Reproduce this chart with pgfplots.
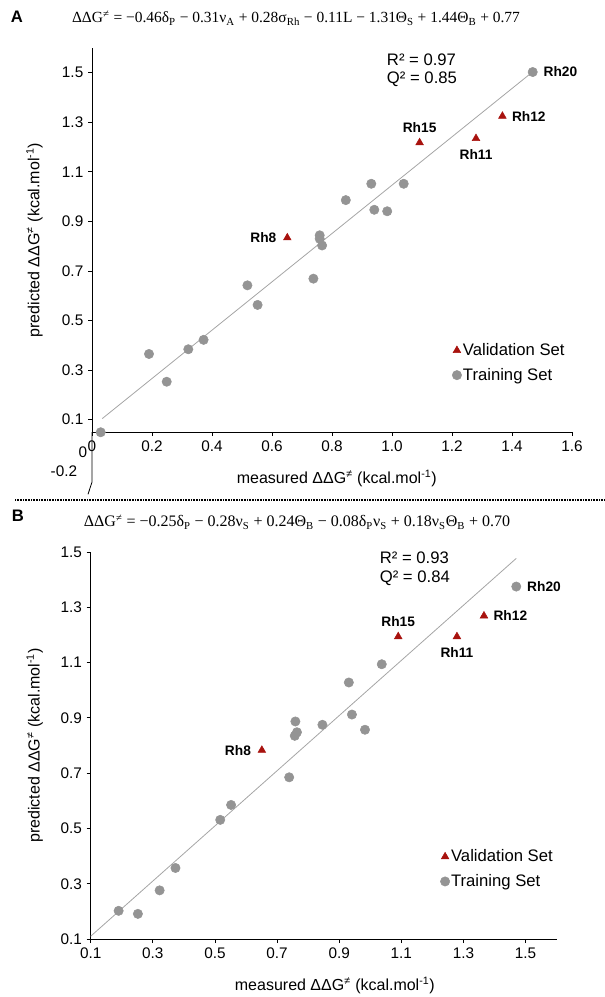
\documentclass[border=0pt]{standalone}
\usepackage{fontspec}
\setmainfont{Liberation Sans}
\newfontfamily\eqfont{Liberation Serif}
\usepackage{pgfplots}
\usepackage{pgfplotstable}
\pgfplotsset{compat=1.18}
\definecolor{ptgray}{RGB}{148,148,148}
\definecolor{ptred}{RGB}{168,18,14}
\definecolor{fitgray}{RGB}{165,165,165}

\pgfplotstableread{
x y
0.029 0.049
0.190 0.365
0.249 0.253
0.321 0.384
0.372 0.422
0.518 0.642
0.552 0.563
0.738 0.669
0.759 0.844
0.759 0.830
0.767 0.803
0.846 0.986
0.931 1.052
0.941 0.947
0.984 0.941
1.039 1.052
1.469 1.503
}\trainA
\pgfplotstableread{
x y
0.651 0.834
1.092 1.218
1.280 1.235
1.368 1.325
}\validA
\pgfplotstableread{
x y
0.190 0.202
0.252 0.191
0.322 0.276
0.373 0.357
0.517 0.531
0.552 0.585
0.739 0.685
0.759 0.887
0.757 0.835
0.764 0.848
0.846 0.875
0.941 0.912
0.983 0.857
0.931 1.028
1.037 1.094
1.470 1.375
}\trainB
\pgfplotstableread{
x y
0.651 0.783
1.090 1.194
1.279 1.194
1.366 1.269
}\validB

\tikzset{rhlab/.style={font=\fontsize{10.3}{12}\bfseries\selectfont, inner sep=0pt}}
\pgfplotsset{
  myaxis/.style={
    scale only axis,
    axis lines*=left,
    xtick pos=left, ytick pos=left,
    axis line style={black, line width=0.6pt},
    tick align=outside,
    major tick length=3pt,
    tick style={black, line width=0.6pt},
    tick label style={font=\fontsize{11.5}{12}\selectfont, black},
    label style={font=\fontsize{12}{14}\selectfont},
    clip=false,
    legend style={draw=none, fill=none, font=\fontsize{12.5}{14}\selectfont,
      anchor=north west, legend cell align=left, row sep=6pt, inner sep=0pt,
      nodes={inner sep=1pt}},
    legend image code/.code={\draw[mark repeat=1,##1] plot coordinates {(0.12cm,0cm)};},
  },
  trainstyle/.style={color=ptgray, only marks, mark=*, mark size=3.5pt, mark options={draw=ptgray, fill=ptgray}},
  validstyle/.style={color=ptred, only marks, mark=triangle*, mark size=3.3pt, mark options={draw=ptred, fill=ptred}},
}

\begin{document}
\begin{tikzpicture}
\path[use as bounding box] (0,0) rectangle (453pt,-747.75pt);

% ---------- Panel A header ----------
\node[font=\fontsize{12.5}{14}\bfseries\selectfont] at (12.75pt,-12.75pt) {A};
\node[font=\eqfont\fontsize{11.6}{13}\selectfont] at (222pt,-13.5pt)
  {ΔΔG\textsuperscript{≠} = −0.46δ\textsubscript{P} − 0.31ν\textsubscript{A} + 0.28σ\textsubscript{Rh} − 0.11L − 1.31Θ\textsubscript{S} + 1.44Θ\textsubscript{B} + 0.77};

\begin{axis}[myaxis,
  at={(69pt,-324pt)}, anchor=south west,
  width=360pt, height=288pt,
  xmin=0, xmax=1.6, ymin=0.05, ymax=1.6,
  xtick={0,0.2,0.4,0.6,0.8,1.0,1.2,1.4,1.6},
  xticklabels={0,0.2,0.4,0.6,0.8,1.0,1.2,1.4,1.6},
  ytick={0.1,0.3,0.5,0.7,0.9,1.1,1.3,1.5},
  yticklabels={0.1,0.3,0.5,0.7,0.9,1.1,1.3,1.5},
  xlabel={measured ΔΔG\textsuperscript{≠} (kcal.mol\textsuperscript{-1})},
  ylabel={predicted ΔΔG\textsuperscript{≠} (kcal.mol\textsuperscript{-1})},
  xlabel style={at={(axis description cs:0.51,-0.12)}, anchor=center},
  ylabel style={at={(axis description cs:-0.12,0.5)}, anchor=center},
  legend style={at={(axis description cs:0.75,0.235)}},
]
\addlegendimage{validstyle}
\addlegendentry{Validation Set}
\addlegendimage{trainstyle}
\addlegendentry{Training Set}
\addplot[fitgray, line width=0.6pt, forget plot] coordinates {(0.034,0.104) (1.465,1.5)};
\addplot[trainstyle, forget plot] table[x=x,y=y] {\trainA};
\addplot[validstyle, forget plot] table[x=x,y=y] {\validA};
\node[rhlab, anchor=west] at (axis cs:1.469,1.503) [xshift=8pt] {Rh20};
\node[rhlab, anchor=west] at (axis cs:1.368,1.325) [xshift=7pt] {Rh12};
\node[rhlab, anchor=south] at (axis cs:1.092,1.218) [yshift=7pt] {Rh15};
\node[rhlab, anchor=north] at (axis cs:1.280,1.235) [yshift=-8pt] {Rh11};
\node[rhlab, anchor=east] at (axis cs:0.651,0.834) [xshift=-8pt] {Rh8};
\node[font=\fontsize{12.5}{13.5}\selectfont, align=left, anchor=north west, inner sep=0pt]
  at (axis description cs:0.614,0.985) {R² = 0.97\\Q² = 0.85};
% axis stub below origin
\draw[black, line width=0.6pt] (axis description cs:0,0) -- ++(0,-28.5pt) -- ++(-3pt,0);
\node[font=\fontsize{11.5}{12}\selectfont, anchor=east, inner sep=0pt] at (axis description cs:0,0) [xshift=-3.5pt, yshift=-15.5pt] {0};
\node[font=\fontsize{11.5}{12}\selectfont, anchor=east, inner sep=0pt] at (axis description cs:0,0) [xshift=-11pt, yshift=-29.5pt] {-0.2};
\end{axis}

% separator
\draw[black, line width=0.8pt, dash pattern=on 0.6pt off 0.6pt] (11.25pt,-375pt) -- (453pt,-375pt);

% ---------- Panel B header ----------
\node[font=\fontsize{12.5}{14}\bfseries\selectfont] at (13.5pt,-387pt) {B};
\node[font=\eqfont\fontsize{12}{14}\selectfont] at (222.75pt,-391.5pt)
  {ΔΔG\textsuperscript{≠} = −0.25δ\textsubscript{P} − 0.28ν\textsubscript{S} + 0.24Θ\textsubscript{B} − 0.08δ\textsubscript{P}ν\textsubscript{S} + 0.18ν\textsubscript{S}Θ\textsubscript{B} + 0.70};

\begin{axis}[myaxis,
  at={(68pt,-704.25pt)}, anchor=south west,
  width=349.5pt, height=290.25pt,
  xmin=0.1, xmax=1.6, ymin=0.1, ymax=1.5,
  xtick={0.1,0.3,0.5,0.7,0.9,1.1,1.3,1.5},
  xticklabels={0.1,0.3,0.5,0.7,0.9,1.1,1.3,1.5},
  ytick={0.1,0.3,0.5,0.7,0.9,1.1,1.3,1.5},
  yticklabels={0.1,0.3,0.5,0.7,0.9,1.1,1.3,1.5},
  xlabel={measured ΔΔG\textsuperscript{≠} (kcal.mol\textsuperscript{-1})},
  ylabel={predicted ΔΔG\textsuperscript{≠} (kcal.mol\textsuperscript{-1})},
  xlabel style={at={(axis description cs:0.524,-0.12)}, anchor=center},
  ylabel style={at={(axis description cs:-0.12,0.5)}, anchor=center},
  legend style={at={(axis description cs:0.75,0.235)}},
]
\addlegendimage{validstyle}
\addlegendentry{Validation Set}
\addlegendimage{trainstyle}
\addlegendentry{Training Set}
\addplot[fitgray, line width=0.6pt, forget plot] coordinates {(0.1,0.11) (1.47,1.477)};
\addplot[trainstyle, forget plot] table[x=x,y=y] {\trainB};
\addplot[validstyle, forget plot] table[x=x,y=y] {\validB};
\node[rhlab, anchor=west] at (axis cs:1.470,1.375) [xshift=8pt] {Rh20};
\node[rhlab, anchor=west] at (axis cs:1.366,1.269) [xshift=7pt] {Rh12};
\node[rhlab, anchor=south] at (axis cs:1.090,1.194) [yshift=7pt] {Rh15};
\node[rhlab, anchor=north] at (axis cs:1.279,1.194) [yshift=-8pt] {Rh11};
\node[rhlab, anchor=east] at (axis cs:0.651,0.783) [xshift=-8pt] {Rh8};
\node[font=\fontsize{12.5}{14}\selectfont, align=left, anchor=north west, inner sep=0pt]
  at (axis description cs:0.62,1.0) {R² = 0.93\\Q² = 0.84};
\end{axis}
\end{tikzpicture}
\end{document}
